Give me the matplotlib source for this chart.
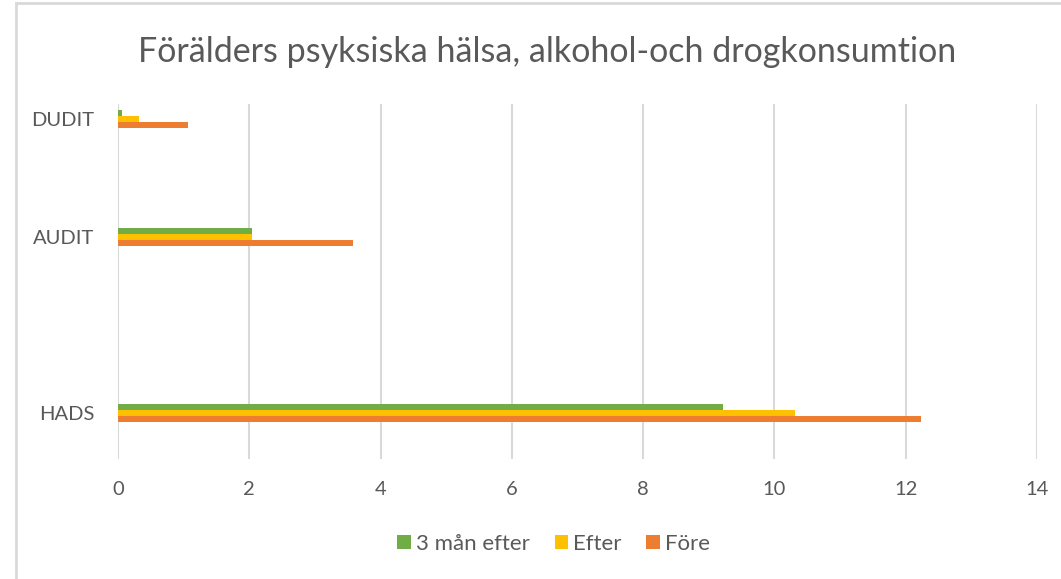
import matplotlib
matplotlib.use("Agg")
import matplotlib.pyplot as plt
from matplotlib.lines import Line2D
import numpy as np

# --- data ---
categories = ["HADS", "AUDIT", "DUDIT"]
series_names = ["Före", "Efter", "3 mån efter"]
fore = [12.23, 3.58, 1.06]
efter = [10.32, 2.04, 0.32]
tre_man_efter = [9.21, 2.04, 0.06]
x_ticks = [0, 2, 4, 6, 8, 10, 12, 14]

# layout: category centres on a 0..355 scale (bottom -> top)
cat_pos = np.array([46, 222, 340])
bar_h = 6.3
colors = ["#ED7D31", "#FFC000", "#70AD47"]
text_gray = "#595959"
grid_gray = "#D9D9D9"

plt.rcParams["font.family"] = ["Lato", "DejaVu Sans"]

fig = plt.figure(figsize=(10.61, 5.79), dpi=100)
ax = fig.add_axes([0.1112, 0.2073, 0.8662, 0.6131])

values = [fore, efter, tre_man_efter]
for i, (name, vals, c) in enumerate(zip(series_names, values, colors)):
    # first series sits lowest in each group (Excel order)
    ax.barh(cat_pos + (i - 1) * bar_h, vals, height=bar_h, color=c,
            label=name, edgecolor="none")

ax.set_xlim(0, 14)
ax.set_ylim(0, 355)
ax.set_xticks(x_ticks)
ax.set_xticklabels([str(t) for t in x_ticks])
ax.set_yticks(cat_pos)
ax.set_yticklabels(categories)
ax.tick_params(axis="both", length=0, labelsize=14.5, labelcolor=text_gray)
ax.tick_params(axis="x", pad=16)
ax.tick_params(axis="y", pad=17)
for s in ax.spines.values():
    s.set_visible(False)
ax.grid(axis="x", color=grid_gray, linewidth=1.5)
ax.set_axisbelow(True)

fig.text(0.5155, 0.911, "Förälders psyksiska hälsa, alkohol-och drogkonsumtion",
         ha="center", va="center", fontsize=24.5, color=text_gray)

handles, labels = ax.get_legend_handles_labels()
leg = fig.legend(handles[::-1], labels[::-1], loc="center", bbox_to_anchor=(0.522, 0.06),
                 ncol=3, frameon=False, fontsize=16, labelcolor=text_gray,
                 handlelength=0.6, handleheight=0.6, handletextpad=0.25, columnspacing=1.1)

# outer chart border (partly cropped)
fig.add_artist(Line2D([16 / 1061, 16 / 1061], [0, 1 - 3 / 579], transform=fig.transFigure,
                      color=grid_gray, linewidth=2))
fig.add_artist(Line2D([16 / 1061, 1], [1 - 3 / 579, 1 - 3 / 579], transform=fig.transFigure,
                      color=grid_gray, linewidth=2))

fig.savefig("out.png", dpi=100)
